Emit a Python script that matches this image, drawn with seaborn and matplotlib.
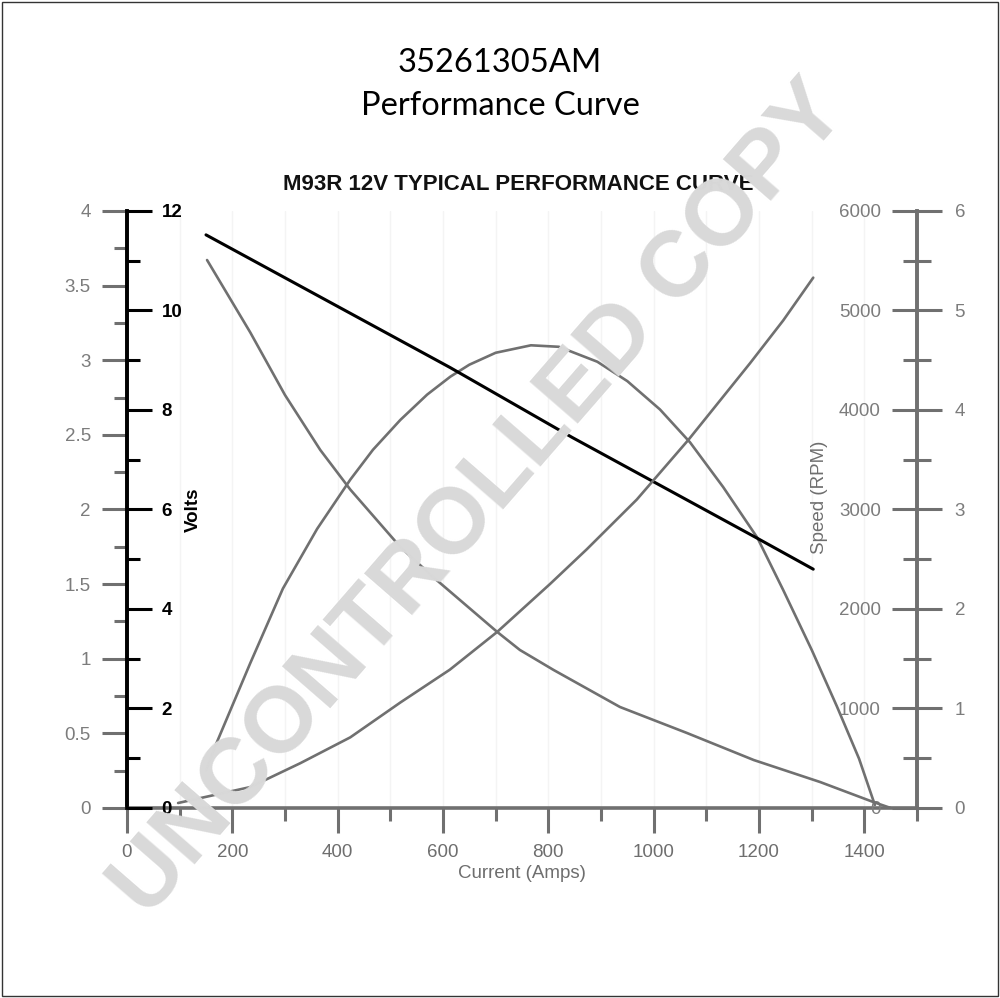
import numpy as np
import seaborn as sns
import matplotlib.pyplot as plt
from matplotlib.patches import Rectangle
from matplotlib.ticker import MultipleLocator, FixedLocator, FuncFormatter

# values
volts_amps = [150, 614, 845, 1197, 1303]
volts = [11.52, 8.85, 7.45, 5.42, 4.80]

power_amps = [150, 167, 234, 296, 361, 424, 467, 519, 570, 614, 650, 700, 767,
              820, 893, 950, 1012, 1069, 1132, 1197, 1246, 1300, 1348, 1390, 1420]
power = [0.25, 0.41, 0.97, 1.47, 1.87, 2.20, 2.40, 2.60, 2.77, 2.89, 2.97, 3.05,
         3.10, 3.09, 2.99, 2.86, 2.67, 2.45, 2.15, 1.81, 1.46, 1.06, 0.68, 0.33,
         0.02]

speed_amps = [152, 234, 300, 367, 424, 519, 581, 703, 746, 810, 936, 1063, 1190,
              1316, 1417, 1450]
speed_rpm = [5507, 4780, 4150, 3598, 3200, 2623, 2322, 1769, 1588, 1387, 1015,
             754, 482, 261, 60, 0]

torque_amps = [97, 234, 329, 424, 519, 613, 703, 803, 873, 968, 1066, 1183,
               1246, 1303]
torque = [0.05, 0.21, 0.45, 0.71, 1.06, 1.39, 1.77, 2.25, 2.60, 3.10, 3.70,
          4.47, 4.90, 5.33]

x_major = [0, 200, 400, 600, 800, 1000, 1200, 1400]
x_minor = [100, 300, 500, 700, 900, 1100, 1300, 1500]

sns.set_theme(style="white")
plt.rcParams['font.family'] = ['Liberation Sans', 'DejaVu Sans']

GRAY = '#707070'
LGRAY = '#7c7c7c'
TL = 18
TM = 9.5
TW = 2.2
fmt = FuncFormatter(lambda v, pos: f'{v:g}')

fig = plt.figure(figsize=(10, 9.98), dpi=100)
fig.patch.set_facecolor('white')
ax = fig.add_axes([0.127, 0.1904, 0.79, 0.5982])

# faint grid
for xv in range(100, 1500, 100):
    ax.axvline(xv, color='#f4f4f4', lw=1, zorder=0)

# power on the outer gray 0-4 axis
sns.lineplot(x=power_amps, y=power, ax=ax, color=GRAY, linewidth=1.9)
ax.set_xlim(0, 1500)
ax.set_ylim(0, 4)
ax.spines['top'].set_visible(False)
ax.spines['right'].set_visible(False)
ax.spines['left'].set_color('black')
ax.spines['left'].set_linewidth(2.6)
ax.spines['bottom'].set_color(GRAY)
ax.spines['bottom'].set_linewidth(2.6)
ax.yaxis.set_major_locator(FixedLocator(np.arange(0, 4.01, 0.5)))
ax.yaxis.set_minor_locator(FixedLocator(np.arange(0.25, 4, 0.5)))
ax.yaxis.set_major_formatter(fmt)
ax.tick_params(axis='y', which='major', left=True, direction='out', length=TL,
               width=TW, color=GRAY, labelcolor=LGRAY, labelsize=13.5, pad=8)
ax.tick_params(axis='y', which='minor', left=True, direction='out', length=TM,
               width=TW, color=GRAY)
ax.xaxis.set_major_locator(FixedLocator(x_major))
ax.xaxis.set_minor_locator(FixedLocator(x_minor))
ax.xaxis.set_major_formatter(fmt)
ax.tick_params(axis='x', which='major', bottom=True, direction='out', length=TL,
               width=TW, color=GRAY, labelcolor='#6e6e6e', labelsize=13.5, pad=8)
ax.tick_params(axis='x', which='minor', bottom=True, direction='out', length=TM,
               width=TW, color=GRAY)
ax.set_xlabel('Current (Amps)', color='#6e6e6e', fontsize=13.5, labelpad=3)
ax.set_ylabel('')

# volts on the black inner axis
ax_v = ax.twinx()
sns.lineplot(x=volts_amps, y=volts, ax=ax_v, color='black', linewidth=2.2)
ax_v.set_ylim(0, 12)
for s in ['top', 'left', 'bottom']:
    ax_v.spines[s].set_visible(False)
ax_v.spines['right'].set_position(('axes', 0))
ax_v.spines['right'].set_color('black')
ax_v.spines['right'].set_linewidth(2.6)
ax_v.yaxis.set_major_locator(FixedLocator(np.arange(0, 12.1, 2)))
ax_v.yaxis.set_minor_locator(FixedLocator(np.arange(1, 12, 2)))
ax_v.yaxis.set_major_formatter(fmt)
ax_v.tick_params(axis='y', which='major', right=True, direction='out', length=TL,
                 width=TW, color='black', labelcolor='black', labelsize=13.5, pad=7)
ax_v.tick_params(axis='y', which='minor', right=True, direction='out', length=TM,
                 width=TW, color='black')
for lab in ax_v.get_yticklabels():
    lab.set_fontweight('bold')
ax_v.set_ylabel('')

# speed on the RPM axis (labels to the left of the right spine)
ax_r = ax.twinx()
sns.lineplot(x=speed_amps, y=speed_rpm, ax=ax_r, color=GRAY, linewidth=1.9)
ax_r.set_ylim(0, 6000)
for s in ['top', 'right', 'bottom']:
    ax_r.spines[s].set_visible(False)
ax_r.spines['left'].set_visible(True)
ax_r.spines['left'].set_position(('axes', 1))
ax_r.spines['left'].set_color(GRAY)
ax_r.spines['left'].set_linewidth(2.6)
ax_r.yaxis.set_ticks_position('left')
ax_r.yaxis.set_major_locator(FixedLocator(np.arange(0, 6001, 1000)))
ax_r.yaxis.set_minor_locator(FixedLocator(np.arange(500, 6000, 1000)))
ax_r.yaxis.set_major_formatter(fmt)
ax_r.tick_params(axis='y', which='major', left=True, right=False, direction='out',
                 length=TL, width=TW, color=GRAY, labelcolor=LGRAY, labelsize=13.5,
                 pad=8, labelleft=True, labelright=False)
ax_r.tick_params(axis='y', which='minor', left=True, right=False, direction='inout',
                 length=19.5, width=TW, color=GRAY)
ax_r.set_ylabel('')

# torque on the outer 0-6 axis
ax_t = ax.twinx()
sns.lineplot(x=torque_amps, y=torque, ax=ax_t, color=GRAY, linewidth=1.9)
ax_t.set_ylim(0, 6)
for s in ['top', 'left', 'bottom']:
    ax_t.spines[s].set_visible(False)
ax_t.spines['right'].set_color(GRAY)
ax_t.spines['right'].set_linewidth(2.6)
ax_t.yaxis.set_major_locator(FixedLocator(np.arange(0, 6.1, 1)))
ax_t.yaxis.set_minor_locator(FixedLocator([]))
ax_t.yaxis.set_major_formatter(fmt)
ax_t.tick_params(axis='y', which='major', right=True, direction='out', length=TL,
                 width=TW, color=GRAY, labelcolor=LGRAY, labelsize=13.5, pad=9)
ax_t.set_ylabel('')

for a in [ax, ax_v, ax_r, ax_t]:
    a.set_xlim(0, 1500)
    a.patch.set_visible(False)

# axis titles
fig.text(0.193, 1 - 510 / 998, 'Volts', rotation=90, ha='center', va='center',
         fontsize=13.5, fontweight='bold', color='black')
fig.text(0.820, 1 - 497 / 998, 'Speed (RPM)', rotation=90, ha='center', va='center',
         fontsize=13.5, color='#6e6e6e')

# titles
fig.text(0.5, 1 - 63 / 998, '35261305AM', ha='center', va='center',
         fontsize=23.5, family=['Lato', 'DejaVu Sans'], color='black')
fig.text(0.5, 1 - 106 / 998, 'Performance Curve', ha='center', va='center',
         fontsize=23.5, family=['Lato', 'DejaVu Sans'], color='black')
fig.text(0.518, 1 - 185 / 998, 'M93R 12V TYPICAL PERFORMANCE CURVE', ha='center',
         va='center', fontsize=16, fontweight='bold', color='#111111')

# watermark
fig.text(0.48, 0.499, 'UNCONTROLLED COPY', rotation=49, rotation_mode='anchor',
         ha='center', va='center', fontsize=67, fontweight='bold',
         color='#d9d9d9', zorder=10)

fig.patches.append(Rectangle((0.002, 0.002), 0.996, 0.996, transform=fig.transFigure,
                             fill=False, edgecolor='#333333', linewidth=1))

fig.savefig('out.png', dpi=100, facecolor='white')
